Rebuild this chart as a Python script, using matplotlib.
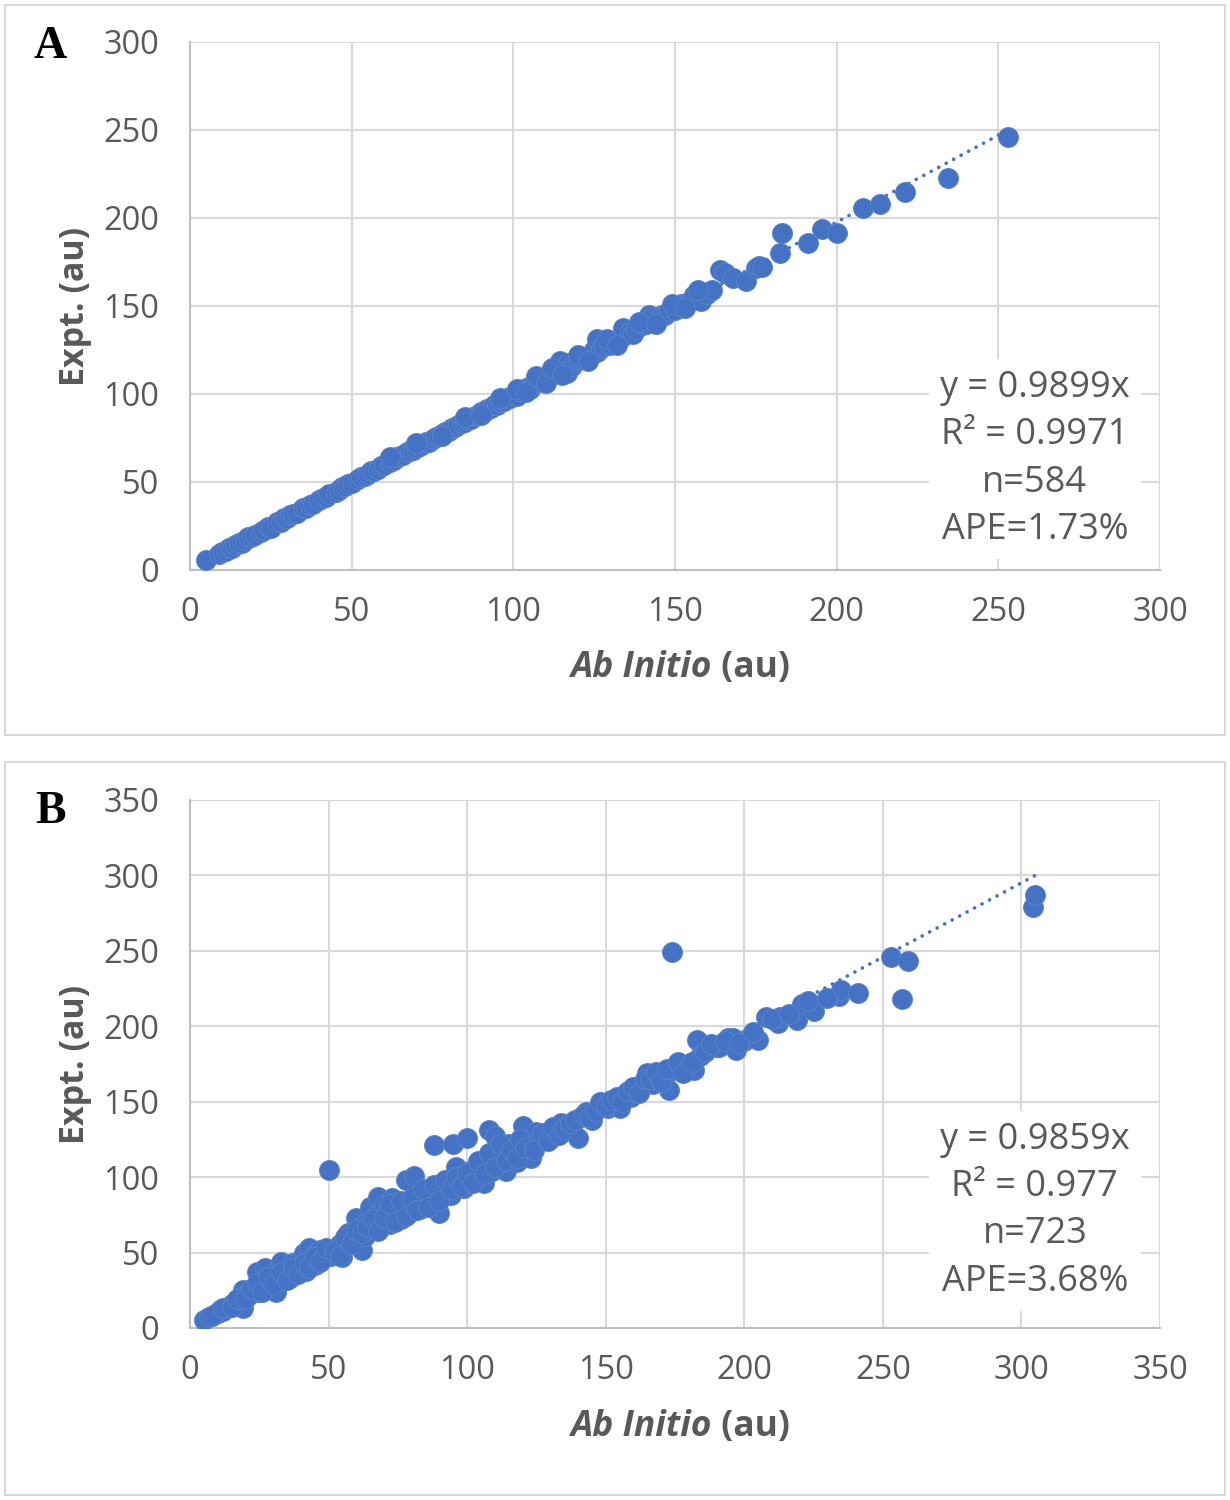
import matplotlib.pyplot as plt
from matplotlib.patches import Rectangle

# Panel A data (Ab Initio vs Expt.)
a_x = [5, 9, 10, 11, 12, 13, 14, 15, 16, 17, 18, 19, 20, 22, 23, 24, 25, 27, 28, 29,
       30, 31, 32, 33, 35, 36, 37, 38, 40, 41, 42, 43, 45, 46, 47, 48, 49, 50, 52, 53,
       54, 55, 56, 57, 58, 59, 60, 62, 63, 64, 65, 66, 67, 68, 69, 70, 71, 72, 73, 74,
       75, 76, 77, 78, 79, 80, 81, 82, 83, 84, 85, 86, 87, 88, 89, 90, 91, 92, 93, 94,
       95, 96, 97, 98, 99, 100, 101, 102, 103, 104, 105, 106, 108, 109, 110, 111, 113,
       114, 114.5, 116.5, 117, 118, 119, 120, 121, 122, 124, 125, 126, 126, 127, 128,
       130, 131, 133, 134, 134, 136, 137, 138, 140, 141, 142, 143, 145, 146, 147, 148,
       150, 151, 152, 154, 155, 156, 158, 160, 161.5, 164, 165.5, 168, 172, 175, 176,
       177, 182.5, 183, 191, 195.5, 200, 208, 213.4, 221, 234.5, 253]
a_y = [5.5, 9, 10.5, 11, 12.5, 12.5, 14, 15.5, 15.5, 17, 18.5, 18.5, 20, 21.5, 23, 24.5,
       24, 27, 27.5, 29.5, 29.5, 31, 32, 32.5, 35, 35.5, 37, 37.5, 39.5, 41, 41.5, 43,
       44.5, 45.5, 47, 47.5, 49, 49.5, 51.5, 53, 53.5, 54.5, 56, 56.5, 57.5, 59, 59.5,
       61.5, 62.5, 64, 64.5, 65.5, 67, 67.5, 68, 69.5, 70.5, 71.5, 72.5, 73, 74.5, 75.5,
       76, 77.5, 78.5, 79, 80.5, 81, 82.5, 83.5, 84, 85.5, 86, 87.5, 88, 89.5, 90, 91.5,
       92, 93.5, 94, 95.5, 96, 97.5, 98, 99.5, 99, 101.5, 102, 103.5, 103, 105.5, 107,
       108.5, 108, 110, 112, 112, 119, 112, 117.5, 116, 118, 119.5, 120, 121, 122, 125,
       124, 131, 126, 127, 128, 130, 131, 133, 137.5, 135, 134, 137, 139, 140, 145,
       143, 143, 145, 145, 147, 148, 150, 151, 152, 153, 156, 153, 157, 159, 170.5,
       169, 166, 164, 171.6, 173, 172, 180, 191.5, 186, 193.7, 191.5, 205.7, 208, 215,
       223, 246]
# slightly scattered points that widen the band of panel A
a_band_x = [62, 70, 78, 85, 90, 96, 101, 104, 107, 110, 112, 115, 120, 123, 129, 132,
            139, 144, 149, 153, 157]
a_band_y = [64, 72, 76, 87, 88, 98, 103, 101, 110, 106, 115, 111, 122, 119, 131, 128,
            141, 140, 151, 149, 159]

# Panel B data
b_x = [5, 7, 9, 10, 11, 12, 13, 14, 15, 16, 17, 18, 19, 19, 20, 21, 22, 23, 24, 25, 26,
       27, 28, 29, 30, 31, 31, 32, 33, 34, 35, 36, 37, 38, 39, 40, 41, 42, 43, 44, 45,
       46, 47, 48, 49, 50, 51, 52, 53, 54, 55, 56, 57, 58, 59, 60, 61, 62, 63, 64, 65,
       66, 67, 68, 69, 70, 71, 72, 73, 74, 75, 76, 77, 78, 79, 80, 81, 82, 83, 84, 85,
       86, 87, 88, 89, 90, 91, 92, 93, 94, 95, 96, 97, 98, 99, 100, 101, 102, 103, 104,
       105, 106, 107, 108, 109, 110, 111, 112, 113, 114, 115, 116, 117, 118, 120, 121,
       122, 123, 125, 126, 128, 130, 132, 134, 136, 138, 140, 141, 143, 145, 147, 149,
       151, 153, 155, 157, 159, 161, 163, 165, 167, 169, 171, 173, 174, 175, 177, 180,
       182, 183, 184, 190, 191, 194, 196, 197, 200, 205, 208, 212, 213, 219, 221, 225,
       234, 235, 241, 253, 257, 259, 304, 305]
b_y = [5, 7, 9, 10, 12, 11, 13, 14, 16, 15, 18, 20, 13, 25, 22, 21, 23, 25, 37, 24, 28,
       40, 30, 27, 33, 24, 38, 31, 44, 35, 38, 33, 43, 37, 44, 40, 50, 38, 53, 46, 42,
       50, 52, 47, 50, 105, 48, 52, 50, 56, 47, 55, 63, 60, 58, 73, 66, 52, 61, 70, 80,
       68, 75, 87, 71, 82, 77, 69, 86, 75, 79, 72, 80, 98, 76, 82, 101, 83, 79, 86, 89,
       83, 91, 121, 88, 76, 96, 90, 94, 88, 122, 107, 95, 99, 93, 126, 104, 98, 106,
       101, 110, 96, 112, 131, 104, 127, 115, 108, 118, 104, 122, 112, 114, 110, 134,
       116, 120, 113, 130, 123, 127, 125, 130, 136, 131, 133, 126, 140, 143, 138, 145,
       148, 146, 150, 146, 155, 153, 158, 161, 169, 162, 168, 166, 158, 249, 171, 173,
       172, 171, 191, 180, 186, 186, 192, 192, 184, 190, 191, 206, 202, 206, 204, 215,
       210, 220, 224, 222, 246, 218, 243, 279, 287]
# more points inside the dense band of panel B
b_band_x = [8, 12, 15, 17, 20, 22, 24, 26, 28, 30, 33, 35, 37, 39, 41, 43, 45, 47, 49, 52,
            54, 56, 58, 60, 62, 64, 66, 68, 70, 72, 74, 76, 78, 80, 82, 84, 86, 88, 90, 92,
            94, 96, 98, 100, 102, 104, 106, 108, 110, 112, 114, 116, 118, 119, 121, 124,
            127, 129, 131, 133, 135, 137, 139, 142, 144, 146, 148, 150, 152, 154, 156,
            158, 160, 162, 164, 166, 168, 170, 172, 176, 178, 181, 186, 188, 193, 198,
            203, 210, 216, 223, 230]
b_band_y = [8, 13, 14, 19, 19, 26, 30, 24, 34, 29, 37, 32, 40, 36, 43, 40, 47, 44, 53, 51,
            48, 60, 56, 65, 63, 67, 72, 64, 73, 82, 70, 84, 74, 86, 78, 92, 80, 95, 84, 98,
            92, 100, 94, 103, 96, 111, 102, 116, 107, 122, 111, 118, 113, 125, 119, 118,
            129, 124, 133, 128, 132, 136, 138, 141, 140, 144, 150, 147, 151, 153, 150,
            157, 160, 156, 165, 165, 170, 163, 172, 176, 169, 176, 183, 188, 190, 189,
            196, 205, 208, 217, 219]

# linear fits shown on the chart (end points)
trend_a_x = [5, 253]
trend_a_y = [5, 250]
trend_b_x = [5, 305]
trend_b_y = [5, 300]

stats_a = "y = 0.9899x\nR\u00b2 = 0.9971\nn=584\nAPE=1.73%"
stats_b = "y = 0.9859x\nR\u00b2 = 0.977\nn=723\nAPE=3.68%"

blue = '#4472C4'
grid_col = '#d9d9d9'
txt_col = '#595959'
plt.rcParams['font.family'] = ['Open Sans', 'DejaVu Sans']

W, H = 1230, 1500
fig = plt.figure(figsize=(W / 100, H / 100), dpi=100)

# outer frames
for (x0, y0, x1, y1) in [(5, 5, 1225, 735), (5, 762, 1225, 1495)]:
    fig.patches.append(Rectangle((x0 / W, 1 - y1 / H), (x1 - x0) / W, (y1 - y0) / H,
                                 transform=fig.transFigure, fill=False,
                                 edgecolor=grid_col, lw=1.5))


def panel(rect, xs, ys, tx, ty, lim, stats, letter, letter_y, xlab_y, stats_y):
    ax = fig.add_axes(rect)
    ax.plot(tx, ty, color=blue, lw=2.6, linestyle=(0, (0.05, 2.3)),
            dash_capstyle='round', zorder=2)
    ax.scatter(xs, ys, s=205, color=blue, edgecolors='#5a82cb', linewidths=0.7,
               zorder=3)
    ax.set_xlim(0, lim)
    ax.set_ylim(0, lim)
    ticks = list(range(0, lim + 1, 50))
    ax.set_xticks(ticks)
    ax.set_yticks(ticks)
    ax.grid(True, color=grid_col, lw=1.5)
    ax.set_axisbelow(True)
    for s in ['top', 'right']:
        ax.spines[s].set_visible(False)
    for s in ['left', 'bottom']:
        ax.spines[s].set_color('#bfbfbf')
        ax.spines[s].set_linewidth(1.5)
    ax.tick_params(length=0, labelsize=23.5, labelcolor=txt_col)
    ax.tick_params(axis='y', pad=22)
    ax.tick_params(axis='x', pad=19)
    ax.set_ylabel('Expt. (au)', fontsize=24.5, fontweight='bold', color=txt_col,
                  labelpad=8)
    ax.text(0.871, stats_y, stats, transform=ax.transAxes, ha='center', va='center',
            fontsize=26, color=txt_col, linespacing=1.42, zorder=4,
            bbox=dict(boxstyle='square,pad=0.3', fc='white', ec='none'))
    t = fig.text(712 / W, 1 - xlab_y / H, 'Ab Initio', ha='right', va='center',
                 fontsize=25.5, fontweight='bold', style='italic', color=txt_col)
    ax.annotate(' (au)', xy=(1, 0.5), xycoords=t, ha='left', va='center',
                fontsize=25.5, fontweight='bold', color=txt_col)
    fig.text(50 / W, 1 - letter_y / H, letter, ha='center', va='center',
             fontsize=33, fontweight='bold', family='Liberation Serif')
    return ax


panel([190 / W, 1 - 570 / H, 970 / W, 528 / H], a_x + a_band_x, a_y + a_band_y,
      trend_a_x, trend_a_y, 300, stats_a, 'A', 47, 668, 0.21)
panel([190 / W, 1 - 1328 / H, 970 / W, 528 / H], b_x + b_band_x, b_y + b_band_y,
      trend_b_x, trend_b_y, 350, stats_b, 'B', 812, 1427, 0.222)

fig.savefig('out.png', dpi=100)
